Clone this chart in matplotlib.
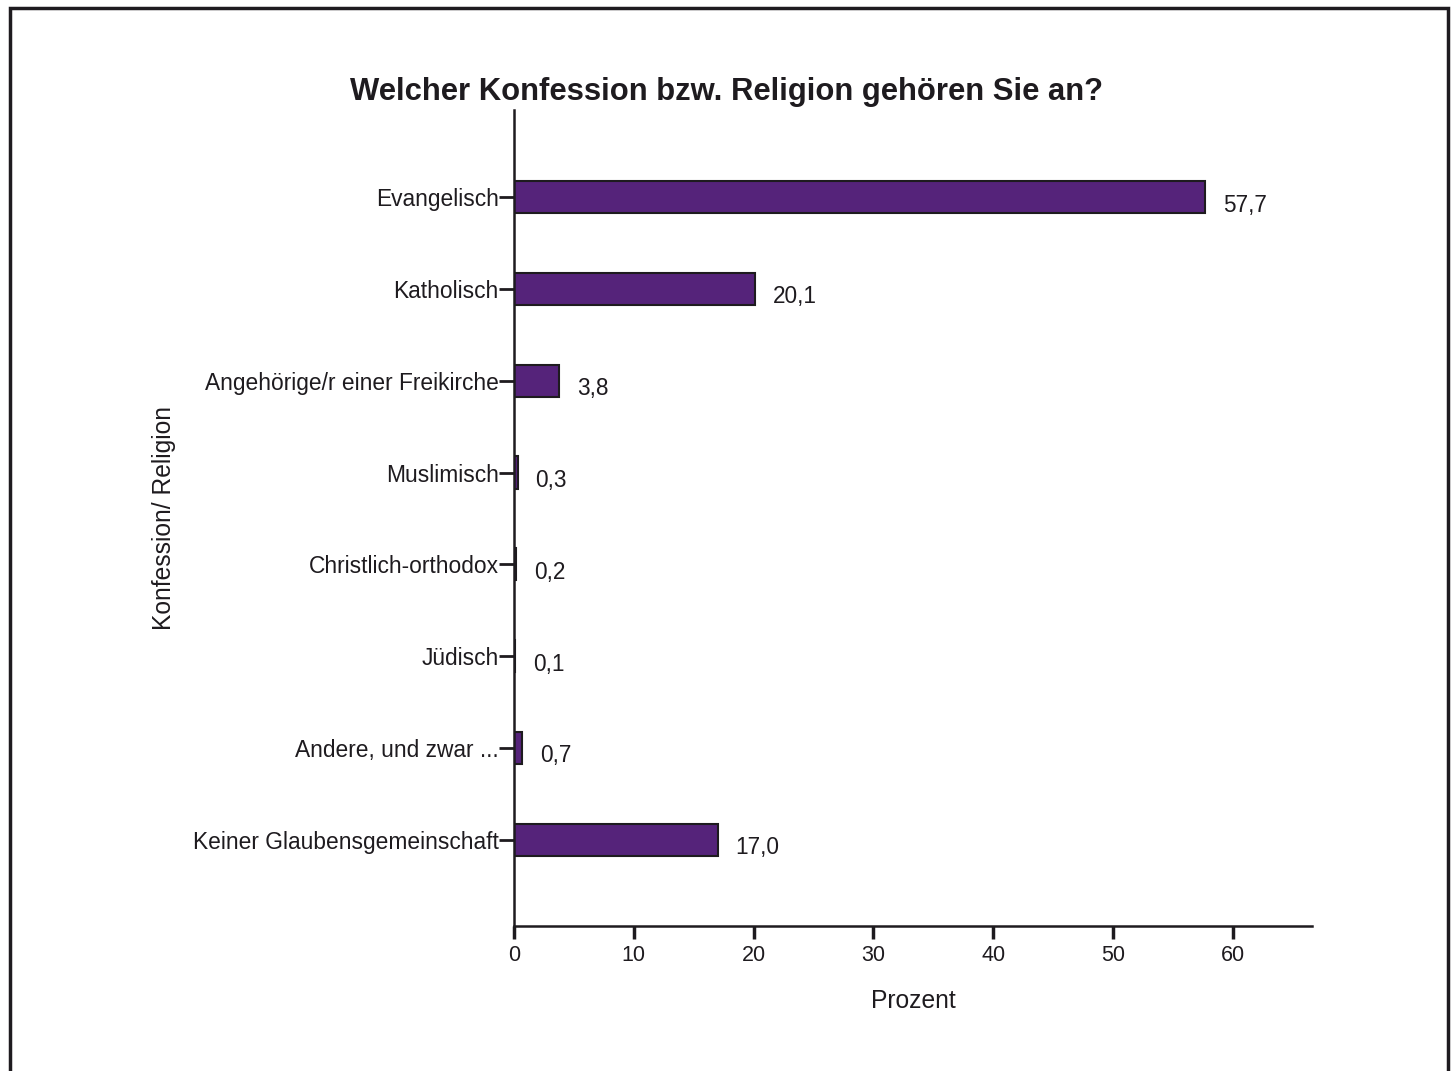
import matplotlib
matplotlib.use('Agg')
import matplotlib.pyplot as plt
from matplotlib.patches import Rectangle
import numpy as np

plt.rcParams['font.family'] = ['Liberation Sans', 'DejaVu Sans']

kategorien = ['Evangelisch', 'Katholisch', 'Angehörige/r einer Freikirche',
              'Muslimisch', 'Christlich-orthodox', 'Jüdisch',
              'Andere, und zwar ...', 'Keiner Glaubensgemeinschaft']
prozent = [57.7, 20.1, 3.8, 0.3, 0.2, 0.1, 0.7, 17.0]
xticks = [0, 10, 20, 30, 40, 50, 60]

farbe = '#55237a'
dunkel = '#1e1b1f'

fig = plt.figure(figsize=(14.56, 10.71), dpi=100)
ax = fig.add_axes([0.353, 0.1354, 0.548, 0.7619])

pos = np.arange(len(kategorien))
ax.barh(pos, prozent, height=0.35, color=farbe, edgecolor=dunkel, linewidth=1.5)

for p, v in zip(pos, prozent):
    ax.annotate(f'{v:.1f}'.replace('.', ','), (v, p), xytext=(18, -8),
                textcoords='offset pixels', ha='left', va='center',
                fontsize=16.3, color=dunkel)

ax.set_ylim(len(kategorien) - 1 + 0.94, -0.95)
ax.set_xlim(0, 66.6)
ax.set_yticks(pos)
ax.set_yticklabels(kategorien, fontsize=16.4, color=dunkel)
ax.set_xticks(xticks)
ax.set_xticklabels([str(t) for t in xticks], fontsize=15.5, color=dunkel)
ax.tick_params(axis='y', length=11, width=2, pad=0, color=dunkel)
ax.tick_params(axis='x', length=9, width=2.5, pad=5, color=dunkel)

for s in ['top', 'right']:
    ax.spines[s].set_visible(False)
for s in ['left', 'bottom']:
    ax.spines[s].set_linewidth(1.8)
    ax.spines[s].set_color(dunkel)

ax.set_xlabel('Prozent', fontsize=17.7, color=dunkel, labelpad=16)
ax.set_ylabel('Konfession/ Religion', fontsize=17.7, color=dunkel)
ax.yaxis.set_label_coords(-0.424, 0.5)

fig.text(0.499, 0.914, 'Welcher Konfession bzw. Religion gehören Sie an?',
         ha='center', va='center', fontsize=22.3, fontweight='bold', color=dunkel)

# Rahmen
fig.patches.append(Rectangle((10 / 1456, -0.05), 1438 / 1456, 1 - 8 / 1071 + 0.05,
                             transform=fig.transFigure, fill=False,
                             edgecolor=dunkel, linewidth=2.5))

fig.savefig('out.png', dpi=100, facecolor='white')
